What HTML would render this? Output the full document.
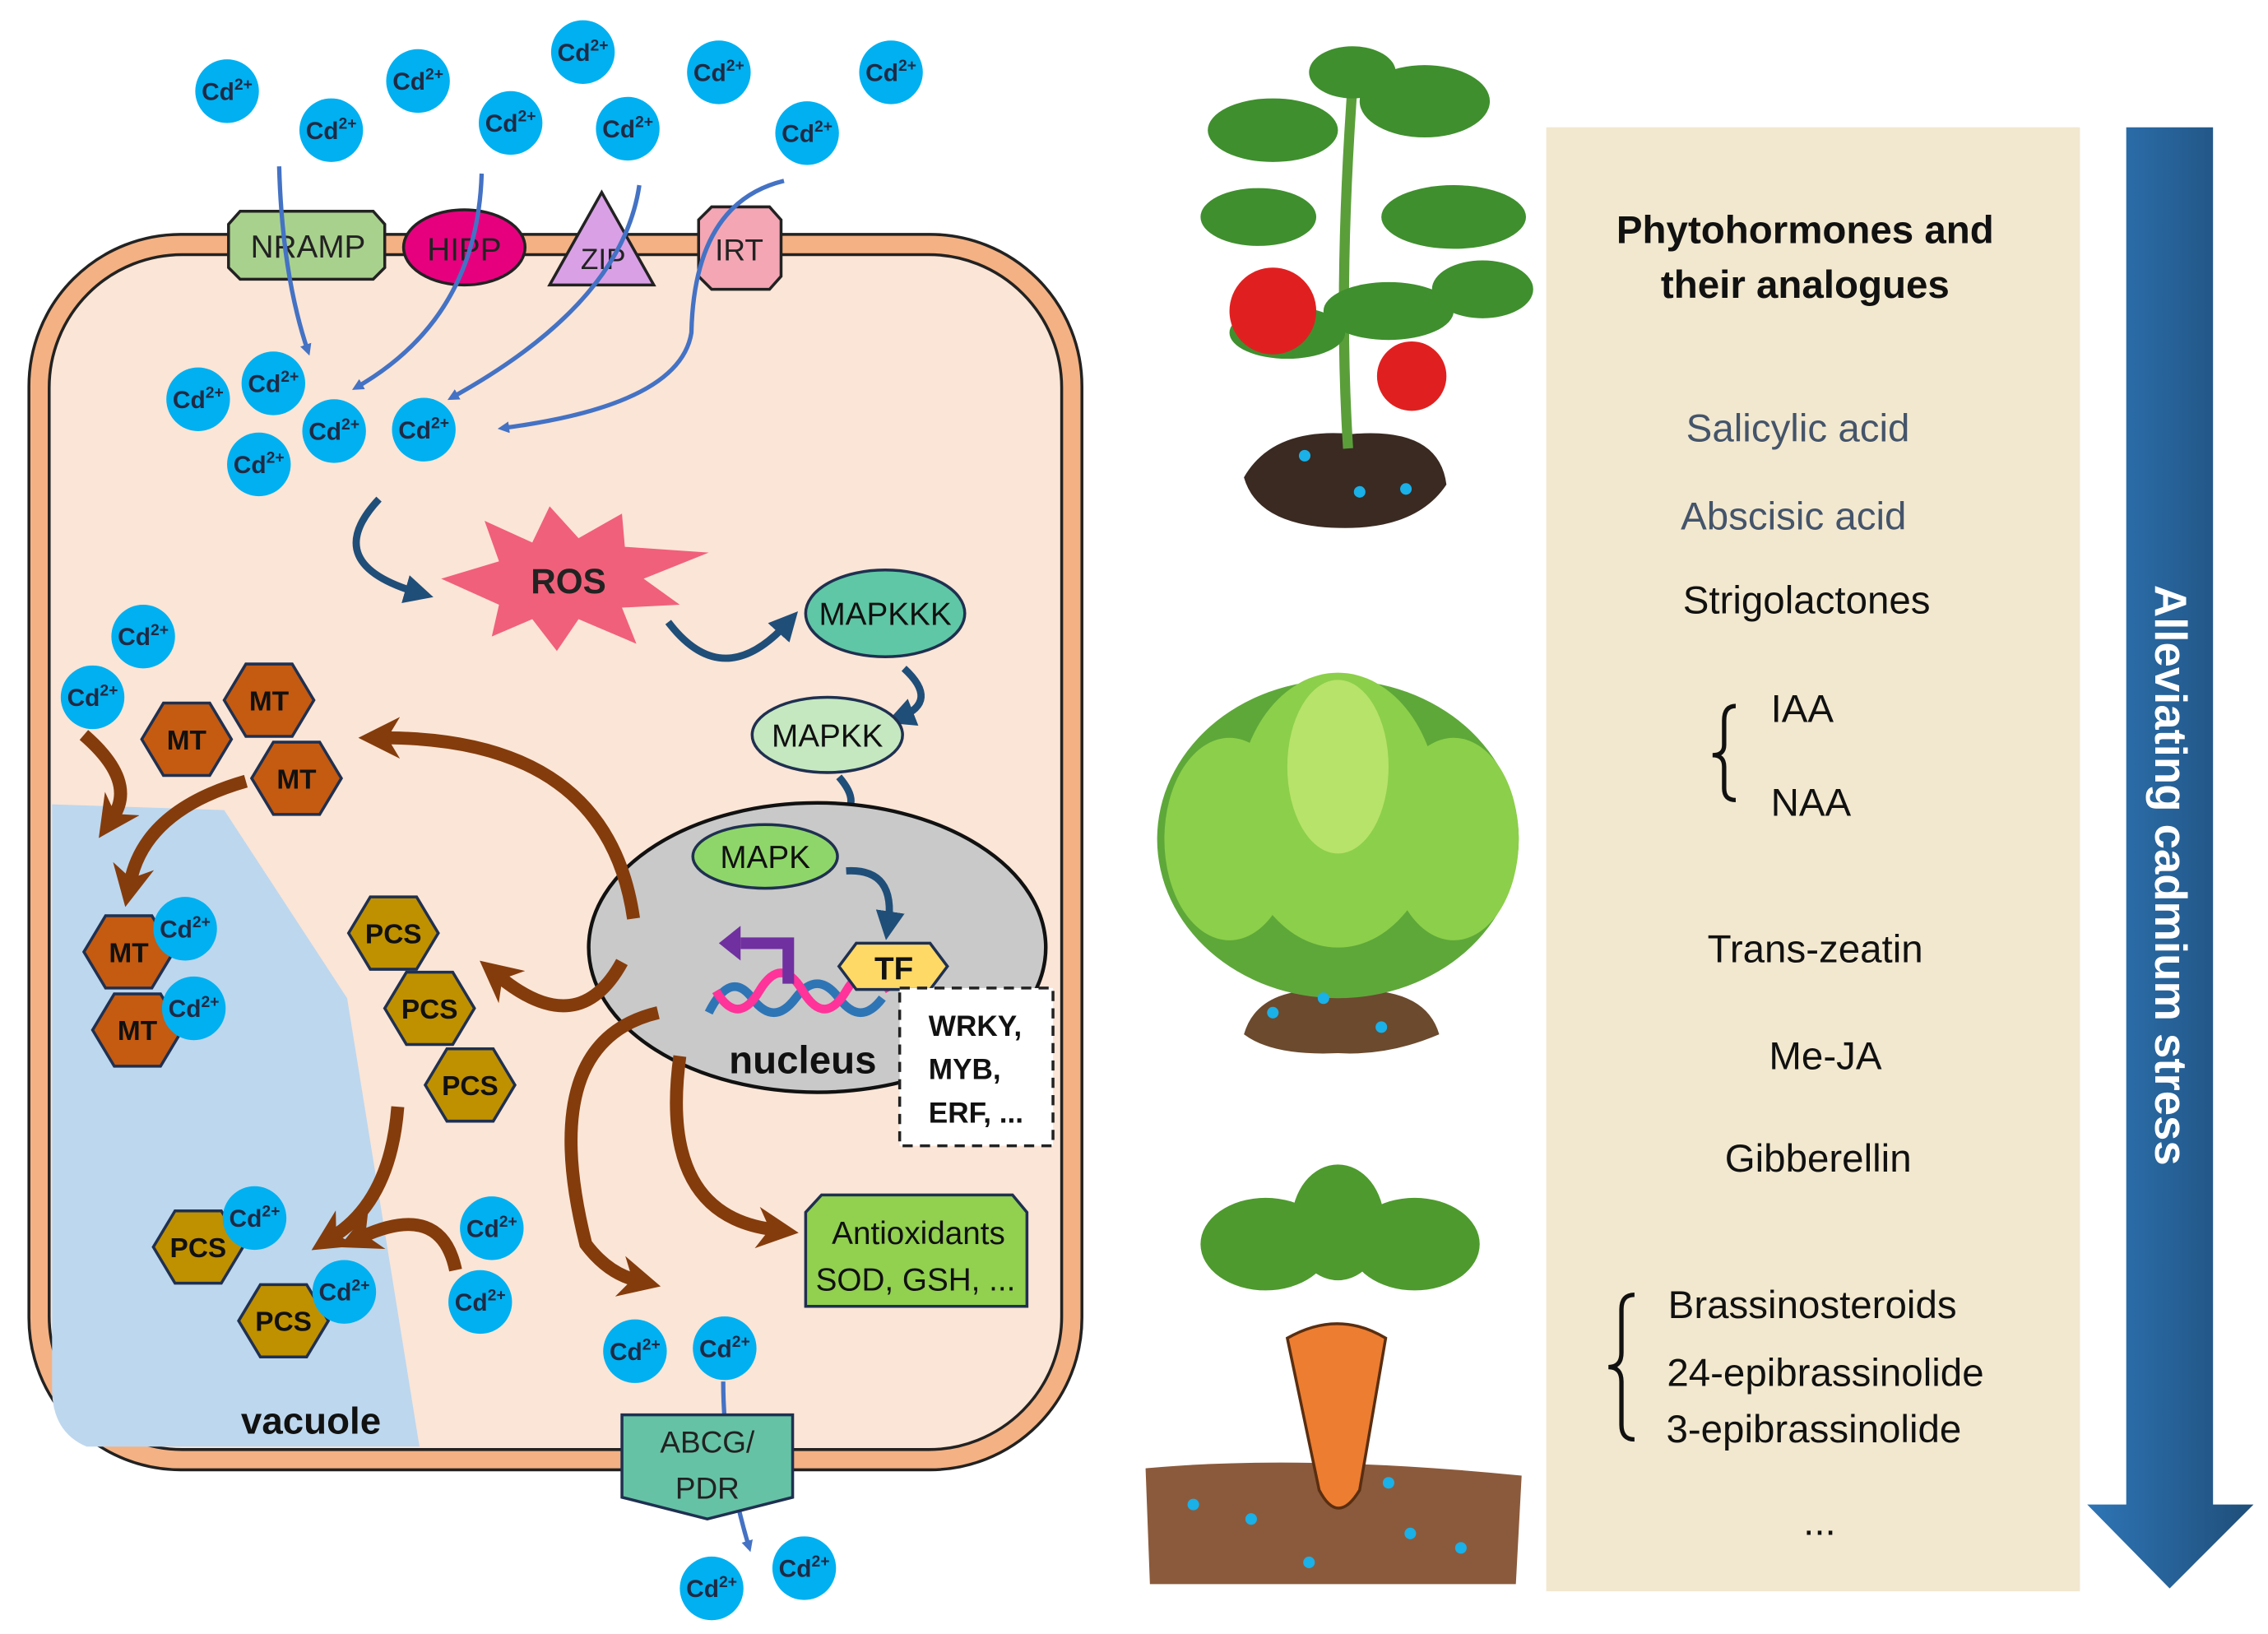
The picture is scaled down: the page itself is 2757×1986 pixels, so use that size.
<!DOCTYPE html>
<html><head><meta charset="utf-8"><style>
html,body{margin:0;padding:0;background:#fff;}
svg{display:block;}
text{font-family:"Liberation Sans",sans-serif;}
.cd{fill:#00b0f0;}
.ct{font-size:17px;font-weight:bold;fill:#1f2a44;text-anchor:middle;}
.hx{stroke:#1f3050;stroke-width:2;}
.ht{font-size:19px;font-weight:bold;fill:#111;text-anchor:middle;}
.rt{font-size:27px;fill:#111;text-anchor:middle;}
.ba{fill:none;stroke:#4472c4;stroke-width:3;marker-end:url(#bh);}
.br{fill:none;stroke:#843c0c;stroke-width:9;marker-end:url(#brh);}
.dk{fill:none;stroke:#1f4e79;stroke-width:5;marker-end:url(#dh);}
</style></head><body>
<svg width="2757" height="1986" viewBox="0 0 1568 1129.5" preserveAspectRatio="none" xmlns="http://www.w3.org/2000/svg">
<defs>
<marker id="bh" markerWidth="8" markerHeight="8" refX="5" refY="4" orient="auto" markerUnits="userSpaceOnUse" viewBox="0 0 8 8"><path d="M0,0 L8,4 L0,8 z" fill="#4472c4"/></marker>
<marker id="brh" markerWidth="3.2" markerHeight="3.2" refX="4" refY="5" orient="auto" viewBox="0 0 10 10" markerUnits="strokeWidth"><path d="M0,0 L10,5 L0,10 L3,5 z" fill="#843c0c"/></marker>
<marker id="dh" markerWidth="4" markerHeight="4" refX="2" refY="2" orient="auto" viewBox="0 0 4 4"><path d="M0,0 L4,2 L0,4 z" fill="#1f4e79"/></marker>
<polygon id="hex" points="-31,0 -16,-25 16,-25 31,0 16,25 -16,25"/>
<linearGradient id="ag" x1="0" x2="1"><stop offset="0" stop-color="#2e75b6"/><stop offset="1" stop-color="#1f4e79"/></linearGradient>
</defs>

<rect x="20" y="162" width="728" height="854" rx="105" fill="#f4b183" stroke="#222" stroke-width="2"/>
<rect x="34" y="176" width="700" height="826" rx="92" fill="#fbe5d6" stroke="#222" stroke-width="2"/>
<path d="M36,556 L155,560 L240,690 L290,1000 L60,1000 Q36,990 36,960 z" fill="#bdd7ee"/>
<text x="215" y="991" font-size="26" font-weight="bold" fill="#111" text-anchor="middle">vacuole</text>

<polygon points="158,155 166,146 258,146 266,155 266,185 258,193 166,193 158,185" fill="#a9d18e" stroke="#222" stroke-width="2"/>
<text x="213" y="178" font-size="22" text-anchor="middle" fill="#222">NRAMP</text>
<ellipse cx="321" cy="171" rx="42" ry="26" fill="#e6007e" stroke="#222" stroke-width="2"/>
<text x="321" y="180" font-size="22" text-anchor="middle" fill="#222">HIPP</text>
<polygon points="380,197 416,133 452,197" fill="#d9a0e6" stroke="#222" stroke-width="2"/>
<text x="417" y="186" font-size="20" text-anchor="middle" fill="#222">ZIP</text>
<polygon points="492,143 532,143 540,152 540,191 532,200 492,200 483,191 483,152" fill="#f4a6b4" stroke="#222" stroke-width="2"/>
<text x="511" y="180" font-size="21" text-anchor="middle" fill="#222">IRT</text>

<path class="ba" d="M193,115 Q195,190 213,243"/>
<path class="ba" d="M333,120 Q330,220 246,268"/>
<path class="ba" d="M442,128 Q430,210 312,275"/>
<path class="ba" d="M542,125 Q480,140 478,230 Q470,280 347,296"/>
<path class="ba" d="M500,955 Q500,1010 518,1070"/>

<polygon points="305,400 345,388 335,360 368,375 380,350 400,372 430,355 432,378 490,382 445,400 470,418 430,420 440,445 400,428 385,450 368,428 340,440 345,418" fill="#f0607a"/>
<text x="393" y="410" font-size="24" font-weight="bold" fill="#222" text-anchor="middle">ROS</text>
<path class="dk" d="M262,345 Q220,390 290,410" stroke-width="9"/>
<path class="dk" d="M462,430 Q500,480 545,430" stroke-width="3"/>
<path class="dk" d="M625,462 Q650,485 622,496" stroke-width="3"/>
<path class="dk" d="M580,537 Q600,560 572,568" stroke-width="3"/>

<ellipse cx="565" cy="655" rx="158" ry="100" fill="#c9c9c9" stroke="#111" stroke-width="2.5"/>
<ellipse cx="612" cy="424" rx="55" ry="30" fill="#5fc7a5" stroke="#1f3050" stroke-width="2"/>
<text x="612" y="432" font-size="22" text-anchor="middle" fill="#111">MAPKKK</text>
<ellipse cx="572" cy="508" rx="52" ry="26" fill="#c5e8c0" stroke="#1f3050" stroke-width="2"/>
<text x="572" y="516" font-size="22" text-anchor="middle" fill="#111">MAPKK</text>
<ellipse cx="529" cy="592" rx="50" ry="22" fill="#8fd66a" stroke="#1f3050" stroke-width="2"/>
<text x="529" y="600" font-size="22" text-anchor="middle" fill="#111">MAPK</text>
<path class="dk" d="M585,602 Q620,600 614,640" stroke-width="4"/>
<path d="M490,700 Q505,670 520,690 T550,690 T580,690 T610,690" fill="none" stroke="#2e75b6" stroke-width="6"/>
<path d="M495,685 Q510,710 525,685 T555,685 T585,685 T615,685" fill="none" stroke="#ff3399" stroke-width="6"/>
<path d="M545,680 L545,652 L512,652" fill="none" stroke="#7030a0" stroke-width="8"/>
<polygon points="497,652 512,640 512,664" fill="#7030a0"/>
<polygon points="580,668 592,652 643,652 655,668 643,684 592,684" fill="#ffd966" stroke="#1f3050" stroke-width="2"/>
<text x="618" y="677" font-size="22" font-weight="bold" text-anchor="middle" fill="#111">TF</text>
<text x="555" y="742" font-size="27" font-weight="bold" text-anchor="middle" fill="#111">nucleus</text>
<rect x="622" y="683" width="106" height="109" fill="#fff" stroke="#222" stroke-width="2" stroke-dasharray="7,5"/>
<text x="642" y="716" font-size="20" font-weight="bold" fill="#111">WRKY,</text>
<text x="642" y="746" font-size="20" font-weight="bold" fill="#111">MYB,</text>
<text x="642" y="776" font-size="20" font-weight="bold" fill="#111">ERF, ...</text>

<path class="br" d="M438,635 Q420,510 265,510"/>
<path class="br" d="M430,665 Q400,720 345,675"/>
<path class="br" d="M455,700 Q370,720 405,860 Q420,880 440,885"/>
<path class="br" d="M470,730 Q455,840 535,850" stroke-width="7"/>
<path class="br" d="M275,765 Q270,830 230,855" stroke-width="6"/>
<path class="br" d="M315,878 Q305,830 250,855" stroke-width="6"/>
<path class="br" d="M170,540 Q100,560 90,610" stroke-width="6"/>
<path class="br" d="M58,508 Q95,540 78,565" stroke-width="5"/>

<polygon points="568,826 700,826 710,838 710,903 557,903 557,838" fill="#92d050" stroke="#1f3050" stroke-width="2"/>
<text x="635" y="860" font-size="22" text-anchor="middle" fill="#111">Antioxidants</text>
<text x="633" y="892" font-size="22" text-anchor="middle" fill="#111">SOD, GSH, ...</text>
<polygon points="430,978 548,978 548,1035 489,1050 430,1035" fill="#66c2a5" stroke="#1f3050" stroke-width="2"/>
<text x="489" y="1004" font-size="21" text-anchor="middle" fill="#222">ABCG/</text>
<text x="489" y="1036" font-size="21" text-anchor="middle" fill="#222">PDR</text>

<g fill="#c55a11" class="hx">
<use href="#hex" x="186" y="484"/><use href="#hex" x="129" y="511"/><use href="#hex" x="205" y="538"/><use href="#hex" x="89" y="658"/><use href="#hex" x="95" y="712"/>
</g>
<g class="ht"><text x="186" y="491">MT</text><text x="129" y="518">MT</text><text x="205" y="545">MT</text><text x="89" y="665">MT</text><text x="95" y="719">MT</text></g>
<g fill="#bf9000" class="hx">
<use href="#hex" x="272" y="645"/><use href="#hex" x="297" y="697"/><use href="#hex" x="325" y="750"/><use href="#hex" x="137" y="862"/><use href="#hex" x="196" y="913"/>
</g>
<g class="ht"><text x="272" y="652">PCS</text><text x="297" y="704">PCS</text><text x="325" y="757">PCS</text><text x="137" y="869">PCS</text><text x="196" y="920">PCS</text></g>

<g class="cd">
<circle cx="157" cy="63" r="22"/><circle cx="229" cy="90" r="22"/><circle cx="289" cy="56" r="22"/><circle cx="353" cy="85" r="22"/><circle cx="403" cy="36" r="22"/><circle cx="434" cy="89" r="22"/><circle cx="497" cy="50" r="22"/><circle cx="558" cy="92" r="22"/><circle cx="616" cy="50" r="22"/>
<circle cx="137" cy="276" r="22"/><circle cx="189" cy="265" r="22"/><circle cx="231" cy="298" r="22"/><circle cx="179" cy="321" r="22"/><circle cx="293" cy="297" r="22"/>
<circle cx="99" cy="440" r="22"/><circle cx="64" cy="482" r="22"/><circle cx="128" cy="642" r="22"/><circle cx="134" cy="697" r="22"/>
<circle cx="176" cy="842" r="22"/><circle cx="238" cy="893" r="22"/><circle cx="340" cy="849" r="22"/><circle cx="332" cy="900" r="22"/>
<circle cx="439" cy="934" r="22"/><circle cx="501" cy="932" r="22"/><circle cx="492" cy="1098" r="22"/><circle cx="556" cy="1084" r="22"/>
</g>
<g class="ct">
<text x="157" y="69">Cd<tspan font-size="11" dy="-7">2+</tspan></text>
<text x="229" y="96">Cd<tspan font-size="11" dy="-7">2+</tspan></text>
<text x="289" y="62">Cd<tspan font-size="11" dy="-7">2+</tspan></text>
<text x="353" y="91">Cd<tspan font-size="11" dy="-7">2+</tspan></text>
<text x="403" y="42">Cd<tspan font-size="11" dy="-7">2+</tspan></text>
<text x="434" y="95">Cd<tspan font-size="11" dy="-7">2+</tspan></text>
<text x="497" y="56">Cd<tspan font-size="11" dy="-7">2+</tspan></text>
<text x="558" y="98">Cd<tspan font-size="11" dy="-7">2+</tspan></text>
<text x="616" y="56">Cd<tspan font-size="11" dy="-7">2+</tspan></text>
<text x="137" y="282">Cd<tspan font-size="11" dy="-7">2+</tspan></text>
<text x="189" y="271">Cd<tspan font-size="11" dy="-7">2+</tspan></text>
<text x="231" y="304">Cd<tspan font-size="11" dy="-7">2+</tspan></text>
<text x="179" y="327">Cd<tspan font-size="11" dy="-7">2+</tspan></text>
<text x="293" y="303">Cd<tspan font-size="11" dy="-7">2+</tspan></text>
<text x="99" y="446">Cd<tspan font-size="11" dy="-7">2+</tspan></text>
<text x="64" y="488">Cd<tspan font-size="11" dy="-7">2+</tspan></text>
<text x="128" y="648">Cd<tspan font-size="11" dy="-7">2+</tspan></text>
<text x="134" y="703">Cd<tspan font-size="11" dy="-7">2+</tspan></text>
<text x="176" y="848">Cd<tspan font-size="11" dy="-7">2+</tspan></text>
<text x="238" y="899">Cd<tspan font-size="11" dy="-7">2+</tspan></text>
<text x="340" y="855">Cd<tspan font-size="11" dy="-7">2+</tspan></text>
<text x="332" y="906">Cd<tspan font-size="11" dy="-7">2+</tspan></text>
<text x="439" y="940">Cd<tspan font-size="11" dy="-7">2+</tspan></text>
<text x="501" y="938">Cd<tspan font-size="11" dy="-7">2+</tspan></text>
<text x="492" y="1104">Cd<tspan font-size="11" dy="-7">2+</tspan></text>
<text x="556" y="1090">Cd<tspan font-size="11" dy="-7">2+</tspan></text>
</g>

<!-- tomato -->
<path d="M860,330 Q880,295 935,300 Q995,295 1000,335 Q980,365 930,365 Q870,365 860,330z" fill="#3a2a22"/>
<path d="M932,310 Q925,200 935,60" stroke="#5a9e3a" stroke-width="7" fill="none"/>
<g fill="#3f8f2e">
<ellipse cx="880" cy="90" rx="45" ry="22"/><ellipse cx="985" cy="70" rx="45" ry="25"/><ellipse cx="870" cy="150" rx="40" ry="20"/><ellipse cx="1005" cy="150" rx="50" ry="22"/><ellipse cx="960" cy="215" rx="45" ry="20"/><ellipse cx="890" cy="230" rx="40" ry="18"/><ellipse cx="1025" cy="200" rx="35" ry="20"/><ellipse cx="935" cy="50" rx="30" ry="18"/>
</g>
<circle cx="880" cy="215" r="30" fill="#e02020"/><circle cx="976" cy="260" r="24" fill="#e02020"/>
<!-- lettuce -->
<path d="M860,715 Q870,680 925,685 Q985,680 995,715 Q960,730 925,728 Q880,730 860,715z" fill="#6b4a2e"/>
<g fill="#5ea83a"><ellipse cx="925" cy="580" rx="125" ry="110"/></g>
<g fill="#8ccf4a"><ellipse cx="925" cy="560" rx="70" ry="95"/><ellipse cx="850" cy="580" rx="45" ry="70"/><ellipse cx="1005" cy="580" rx="45" ry="70"/></g>
<g fill="#b7e36a"><ellipse cx="925" cy="530" rx="35" ry="60"/></g>
<!-- carrot -->
<path d="M792,1015 Q900,1005 1052,1020 L1048,1095 L795,1095z" fill="#8b5a3c"/>
<path d="M890,925 Q925,905 958,925 L940,1030 Q925,1055 912,1030z" fill="#ed7d31" stroke="#5a2e10" stroke-width="2"/>
<g fill="#4e9a2e"><ellipse cx="875" cy="860" rx="45" ry="32"/><ellipse cx="978" cy="860" rx="45" ry="32"/><ellipse cx="925" cy="845" rx="32" ry="40"/></g>
<g fill="#1ab0e8">
<circle cx="902" cy="315" r="4"/><circle cx="940" cy="340" r="4"/><circle cx="972" cy="338" r="4"/><circle cx="915" cy="690" r="4"/><circle cx="955" cy="710" r="4"/><circle cx="880" cy="700" r="4"/>
<circle cx="825" cy="1040" r="4"/><circle cx="865" cy="1050" r="4"/><circle cx="975" cy="1060" r="4"/><circle cx="1010" cy="1070" r="4"/><circle cx="905" cy="1080" r="4"/><circle cx="960" cy="1025" r="4"/>
</g>

<rect x="1069" y="88" width="369" height="1012" fill="#f2e8cf"/>
<text x="1248" y="168" font-size="27" font-weight="bold" text-anchor="middle" fill="#111">Phytohormones and</text>
<text x="1248" y="206" font-size="27" font-weight="bold" text-anchor="middle" fill="#111">their analogues</text>
<text class="rt" x="1243" y="305" style="fill:#44546a">Salicylic acid</text>
<text class="rt" x="1240" y="366" style="fill:#44546a">Abscisic acid</text>
<text class="rt" x="1249" y="424">Strigolactones</text>
<text class="rt" x="1246" y="499">IAA</text>
<text class="rt" x="1252" y="564">NAA</text>
<path d="M1200,488 Q1192,488 1192,498 L1192,515 Q1192,522 1184,522 Q1192,522 1192,530 L1192,545 Q1192,553 1200,553" fill="none" stroke="#111" stroke-width="3"/>
<text class="rt" x="1255" y="665">Trans-zeatin</text>
<text class="rt" x="1262" y="739">Me-JA</text>
<text class="rt" x="1257" y="810">Gibberellin</text>
<text class="rt" x="1253" y="911">Brassinosteroids</text>
<text class="rt" x="1262" y="958">24-epibrassinolide</text>
<text class="rt" x="1254" y="997">3-epibrassinolide</text>
<text class="rt" x="1258" y="1061">...</text>
<path d="M1130,895 Q1121,895 1121,905 L1121,935 Q1121,945 1112,945 Q1121,945 1121,955 L1121,985 Q1121,995 1130,995" fill="none" stroke="#111" stroke-width="3"/>

<polygon points="1470,88 1530,88 1530,1040 1558,1040 1500,1098 1443,1040 1470,1040" fill="url(#ag)"/>
<text transform="translate(1490,605) rotate(90)" font-size="31" font-weight="bold" fill="#fff" text-anchor="middle">Alleviating cadmium stress</text>
</svg>
</body></html>
